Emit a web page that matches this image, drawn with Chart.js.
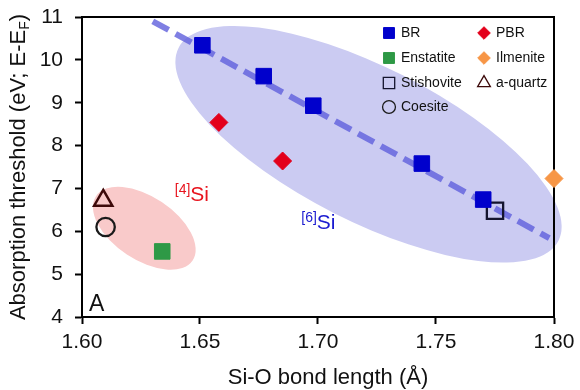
<!DOCTYPE html>
<html>
<head>
<meta charset="utf-8">
<script src="https://cdn.jsdelivr.net/npm/chart.js@4.4.0/dist/chart.umd.min.js"></script>
<style>
  html, body { margin: 0; padding: 0; background: #fff; }
</style>
</head>
<body>
<canvas id="chart" width="580" height="390"></canvas>
<script>
// Si-O bond length (Å) vs absorption threshold (eV)
const bondBR = [1.651, 1.677, 1.698, 1.744, 1.770];
const edgeBR = [10.34, 9.62, 8.93, 7.58, 6.74];
const bondPBR = [1.658, 1.685];
const edgePBR = [8.54, 7.64];
const bondEnstatite = [1.634];
const edgeEnstatite = [5.53];
const bondIlmenite = [1.800];
const edgeIlmenite = [7.23];
const bondStishovite = [1.775];
const edgeStishovite = [6.48];
const bondQuartz = [1.609];
const edgeQuartz = [6.72];
const bondCoesite = [1.610];
const edgeCoesite = [6.10];
// linear trend through the six-fold sites
const trendBond = [1.630, 1.798];
const trendEdge = [10.90, 5.84];

const xTicks = [1.60, 1.65, 1.70, 1.75, 1.80];
const yTicks = [4, 5, 6, 7, 8, 9, 10, 11];

const FONT = '"Liberation Sans", Arial, Helvetica, sans-serif';

const pts = (xs, ys) => xs.map((v, i) => ({ x: v, y: ys[i] }));

// shaded coordination regions: centre in data units, radii in px
const regions = [
    { x: 1.7214, y: 8.03, rx: 213, ry: 77, angle: 26.9, color: '#cbcbf2' },
    { x: 1.6264, y: 6.07, rx: 58, ry: 31.5, angle: 33.6, color: '#f9caca' },
];

const notes = [
    { x: 1.6393, y: 6.70, sup: '[4]', text: 'Si', color: '#e8141e' },
    { x: 1.6929, y: 6.05, sup: '[6]', text: 'Si', color: '#1a1ad0' },
];

function drawRich(ctx, parts, x, y) {
    let total = 0;
    parts.forEach(p => {
        ctx.font = `${p.size}px ${FONT}`;
        p.w = ctx.measureText(p.text).width;
        total += p.w;
    });
    let cx = x - total / 2;
    parts.forEach(p => {
        ctx.font = `${p.size}px ${FONT}`;
        ctx.fillText(p.text, cx, y + (p.dy || 0));
        cx += p.w;
    });
}

const decorations = {
    id: 'decorations',
    // regions go under the axes
    beforeDraw(chart) {
        const { ctx, scales: { x, y } } = chart;
        ctx.save();
        regions.forEach(r => {
            ctx.beginPath();
            ctx.ellipse(x.getPixelForValue(r.x), y.getPixelForValue(r.y), r.rx, r.ry,
                r.angle * Math.PI / 180, 0, 2 * Math.PI);
            ctx.fillStyle = r.color;
            ctx.fill();
        });
        ctx.restore();
    },
    afterDraw(chart) {
        const { ctx, chartArea: a, scales: { x, y } } = chart;
        ctx.save();
        ctx.textBaseline = 'alphabetic';
        ctx.textAlign = 'left';

        // region labels with superscript
        notes.forEach(n => {
            const px = x.getPixelForValue(n.x);
            const py = y.getPixelForValue(n.y);
            ctx.fillStyle = n.color;
            ctx.font = `14px ${FONT}`;
            ctx.fillText(n.sup, px, py - 7);
            const w = ctx.measureText(n.sup).width;
            ctx.font = `21px ${FONT}`;
            ctx.fillText(n.text, px + w, py);
        });

        // panel letter
        ctx.fillStyle = '#111';
        ctx.font = `23px ${FONT}`;
        ctx.fillText('A', a.left + 7, a.bottom - 6);

        // axis titles
        ctx.fillStyle = '#111';
        drawRich(ctx, [{ text: 'Si-O bond length (Å)', size: 22 }], 328, 384);

        ctx.translate(25, (a.top + a.bottom) / 2);
        ctx.rotate(-Math.PI / 2);
        drawRich(ctx, [
            { text: 'Absorption threshold (eV; E-E', size: 22 },
            { text: 'F', size: 14, dy: 4 },
            { text: ')', size: 22 },
        ], 0, 0);
        ctx.restore();

        // legend, two columns
        const cols = [389, 484];
        const rows = [33, 58, 83, 107];
        ctx.save();
        chart.data.datasets.filter(d => d.legend).forEach((d, i) => {
            const mx = cols[i % 2];
            const my = rows[Math.floor(i / 2)];
            ctx.fillStyle = d.backgroundColor;
            ctx.strokeStyle = d.borderColor;
            ctx.lineWidth = d.legendBorder;
            Chart.helpers.drawPoint(ctx, {
                pointStyle: d.pointStyle,
                radius: d.pointRadius * 0.7,
                borderWidth: d.legendBorder,
                rotation: 0,
            }, mx, my);
            ctx.fillStyle = '#111';
            ctx.font = `14px ${FONT}`;
            ctx.textBaseline = 'middle';
            ctx.textAlign = 'left';
            ctx.fillText(d.label, mx + 12, my);
        });
        ctx.restore();
    },
};

const marker = (label, xs, ys, style, radius, fill, stroke, bw, legendBorder) => ({
    label,
    data: pts(xs, ys),
    pointStyle: style,
    pointRadius: radius,
    backgroundColor: fill,
    borderColor: stroke,
    borderWidth: bw,
    legend: true,
    legendBorder,
    clip: false,
});

const tickFont = { family: FONT, size: 21 };
const axisGrid = { drawOnChartArea: false, tickLength: 7, tickWidth: 2, tickColor: '#000' };
const frameGrid = { drawOnChartArea: false, drawTicks: false };
const axisBorder = { color: '#000', width: 2 };
const noPad = (s) => { s.paddingTop = 0; s.paddingBottom = 0; s.paddingLeft = 0; s.paddingRight = 0; };

new Chart(document.getElementById('chart'), {
    type: 'scatter',
    data: {
        datasets: [
            marker('BR', bondBR, edgeBR, 'rect', 11, '#0000cc', '#0000cc', 1, 1),
            marker('PBR', bondPBR, edgePBR, 'rectRot', 9, '#e3001b', '#e3001b', 1, 1),
            marker('Enstatite', bondEnstatite, edgeEnstatite, 'rect', 11, '#2e9946', '#2e9946', 1, 1),
            marker('Ilmenite', bondIlmenite, edgeIlmenite, 'rectRot', 9, '#f79646', '#f79646', 1, 1),
            marker('Stishovite', bondStishovite, edgeStishovite, 'rect', 11.5, 'rgba(0,0,0,0)', '#14142e', 2.3, 1.3),
            marker('a-quartz', bondQuartz, edgeQuartz, 'triangle', 10.5, 'rgba(0,0,0,0)', '#3d0a0a', 2.5, 1.3),
            marker('Coesite', bondCoesite, edgeCoesite, 'circle', 9.2, 'rgba(0,0,0,0)', '#1a1a1a', 2.3, 1.3),
            {
                type: 'line',
                label: 'trend',
                data: pts(trendBond, trendEdge),
                showLine: true,
                borderColor: 'rgba(95, 95, 220, 0.8)',
                borderWidth: 6,
                borderDash: [18, 8],
                borderCapStyle: 'butt',
                pointRadius: 0,
                fill: false,
                order: 10,
                clip: false,
            },
        ],
    },
    options: {
        responsive: false,
        animation: false,
        events: [],
        layout: { padding: { top: 17, right: 26, bottom: 0, left: 0 } },
        plugins: {
            legend: { display: false },
            tooltip: { enabled: false },
        },
        scales: {
            x: {
                type: 'linear',
                min: 1.60,
                max: 1.80,
                afterFit: (s) => { s.height = 73; noPad(s); },
                afterBuildTicks: (s) => { s.ticks = xTicks.map(v => ({ value: v })); },
                ticks: {
                    callback: (v) => v.toFixed(2),
                    color: '#111',
                    font: tickFont,
                    padding: 6,
                    maxRotation: 0,
                },
                grid: axisGrid,
                border: axisBorder,
            },
            y: {
                min: 4,
                max: 11,
                afterFit: (s) => { s.width = 82; noPad(s); },
                afterBuildTicks: (s) => { s.ticks = yTicks.map(v => ({ value: v })); },
                ticks: {
                    color: '#111',
                    font: tickFont,
                    padding: 12,
                },
                grid: axisGrid,
                border: axisBorder,
            },
            // plain axes that close the frame on top and right
            xTop: {
                type: 'linear',
                position: 'top',
                min: 1.60,
                max: 1.80,
                afterFit: (s) => { s.height = 0; noPad(s); },
                ticks: { display: false },
                grid: frameGrid,
                border: axisBorder,
            },
            yRight: {
                type: 'linear',
                position: 'right',
                min: 4,
                max: 11,
                afterFit: (s) => { s.width = 0; noPad(s); },
                ticks: { display: false },
                grid: frameGrid,
                border: axisBorder,
            },
        },
    },
    plugins: [decorations],
});
</script>
</body>
</html>
